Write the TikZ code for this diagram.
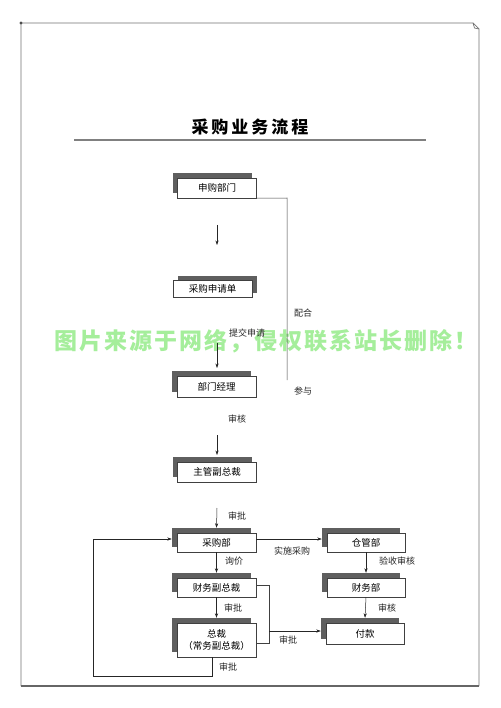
\documentclass[tikz,border=0pt]{standalone}
\usepackage{fontspec}
\setmainfont{Noto Sans CJK SC}
\usetikzlibrary{shadows,arrows.meta}
\definecolor{wmgreen}{RGB}{165,238,155}
\definecolor{shade}{RGB}{95,95,95}
\newcommand{\spc}[1]{\kern#1}
\begin{document}
\begin{tikzpicture}[x=1pt,y=-1pt,
  box/.style={draw=black!75, line width=0.5pt, fill=white, minimum width=79pt,
    minimum height=20pt, inner sep=0pt, align=center,
    font=\fontsize{9.5}{12}\selectfont},
  shL/.style={general shadow={fill=shade, shadow xshift=-5pt, shadow yshift=5pt}},
  shR/.style={general shadow={fill=shade, shadow xshift=5pt, shadow yshift=5pt}},
  arr/.style={-{Stealth[length=4.5pt,width=3.2pt]}, line width=0.5pt, draw=black!85},
  ln/.style={line width=0.5pt, draw=black!75},
  lab/.style={font=\fontsize{9}{11}\selectfont, inner sep=0pt, text=black!85},
  frame/.style={draw=black!55, line width=0.7pt}
]
\useasboundingbox (0,0) rectangle (500,708);
\fill[white] (0,0) rectangle (500,708);

% watermark
\node[font=\bfseries\fontsize{23}{26}\selectfont, text=wmgreen, inner sep=0pt] (wm) at (266,341)
 {图\spc{2pt}片\spc{2pt}来\spc{2pt}源\spc{2pt}于\spc{2pt}网\spc{2pt}络\spc{2pt}，\spc{2pt}侵\spc{2pt}权\spc{2pt}联\spc{2pt}系\spc{2pt}站\spc{2pt}长\spc{2pt}删\spc{2pt}除\spc{2pt}！};

% page frame
\coordinate (ftl) at (21,23);
\coordinate (ftr) at (473,23);
\coordinate (fcr) at (479,29);
\coordinate (fbr) at (479,686);
\coordinate (fbl) at (21,686);
\draw[frame] (fbl) -- (ftl) -- (ftr) -- (fcr) -- (fbr);
\draw[frame] (ftr) -- (474.5,28) -- (fcr);
\draw[draw=black!60, line width=1.3pt] (fbl) -- (fbr);
\fill[black!70] (21,23) circle (1.6pt);

% title
\node[font=\bfseries\fontsize{17}{20}\selectfont, inner sep=0pt] (title) at (250,127)
 {采\spc{3pt}购\spc{3pt}业\spc{3pt}务\spc{3pt}流\spc{3pt}程};
\coordinate (ulL) at (74,140);
\coordinate (ulR) at (426,140);
\draw[draw=black!50, line width=1.4pt] (ulL) -- (ulR);

% boxes
\node[box, shL] (sg) at (217,188) {申购部门};
\node[box, shR, minimum height=17pt] (sq) at (212.5,289) {采购申请单};
\node[box, shL, minimum height=21pt] (bm) at (216.5,386.5) {部门经理};
\node[box, shL] (zg) at (217,472) {主管副总裁};
\node[box, shL, minimum height=19pt] (cg) at (216.5,542.5) {采购部};
\node[box, shL, minimum height=19pt, minimum width=78pt] (ck) at (366,542.5) {仓管部};
\node[box, shL, minimum height=19pt] (cw) at (216.5,587.5) {财务副总裁};
\node[box, shL, minimum height=19pt, minimum width=78pt] (cf) at (366,587.5) {财务部};
\node[box, shL, minimum height=34pt] (zc) at (216.5,640) {总裁\\（常务副总裁）};
\node[box, shL, minimum height=21pt, minimum width=78pt] (fk) at (365,633.5) {付款};

% floating arrows
\coordinate (a1s) at (217,225); \coordinate (a1e) at (217,245);
\coordinate (a2s) at (217,343); \coordinate (a2e) at (217,368);
\coordinate (a3s) at (217,435); \coordinate (a3e) at (217,455);
\coordinate (a4s) at (217,508);
\draw[arr] (a1s) -- (a1e);
\draw[arr] (a2s) -- (a2e);
\draw[arr] (a3s) -- (a3e);
\draw[arr] (a4s) -- ([yshift=5pt]cg.north);

% 配合 / 参与 line
\coordinate (pc) at (287,198);
\coordinate (pe) at (287,380);
\draw[ln] (sg.south east) -- (pc) -- (pe);

% lower connectors
\draw[arr] (cg.south) -- ([yshift=5pt]cw.north);
\draw[arr] (ck.south) -- ([yshift=5pt]cf.north);
\draw[arr] (cw.south) -- ([yshift=5pt]zc.north);
\draw[arr] (cf.south) -- ([yshift=5pt]fk.north);
\draw[arr] ([yshift=3.5pt]cg.east) -- ([xshift=-5pt,yshift=3.5pt]ck.west);

\coordinate (rb1) at (269,585);
\coordinate (rb2) at (269,643);
\coordinate (rb3) at (269,631);
\draw[ln] ([yshift=2.5pt]cw.east) -- (rb1) -- (rb2) -- (rb2 -| zc.east);
\draw[arr] (rb3) -- ([xshift=-5pt,yshift=2.5pt]fk.west);

\coordinate (lp) at (93,676);
\draw[arr] ([xshift=-4.5pt]zc.south) |- (lp) |- ([xshift=-5pt,yshift=3.5pt]cg.west);

% labels
\node[lab] (l1) at (303,313) {配合};
\node[lab] (l2) at (303,391) {参与};
\node[lab] (l3) at (247,333) {提交申请};
\node[lab] (l4) at (237,419) {审核};
\node[lab] (l5) at (237,516) {审批};
\node[lab] (l6) at (292,551) {实施采购};
\node[lab] (l7) at (234,561) {询价};
\node[lab] (l8) at (397,561) {验收审核};
\node[lab] (l9) at (233,608) {审批};
\node[lab] (l10) at (387,608) {审核};
\node[lab] (l11) at (288,640) {审批};
\node[lab] (l12) at (228,667) {审批};
\end{tikzpicture}
\end{document}
